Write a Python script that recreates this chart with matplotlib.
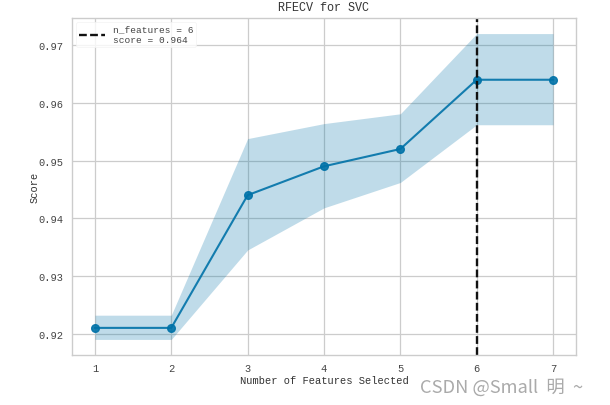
import matplotlib
matplotlib.use('Agg')
import matplotlib.pyplot as plt

# values
n_features = [1, 2, 3, 4, 5, 6, 7]
score_mean = [0.921, 0.921, 0.944, 0.949, 0.952, 0.964, 0.964]
score_upper = [0.9232, 0.9232, 0.9538, 0.9564, 0.9581, 0.972, 0.972]
score_lower = [0.919, 0.919, 0.9345, 0.9418, 0.9462, 0.9562, 0.9562]
best_n = 6
best_score = 0.964
y_ticks = [0.92, 0.93, 0.94, 0.95, 0.96, 0.97]

W, H = 610, 406
plt.rcParams['font.family'] = ['Liberation Mono', 'DejaVu Sans Mono']

fig = plt.figure(figsize=(W / 100, H / 100), dpi=100)
ax = fig.add_axes([72 / W, 1 - 356 / H, (576 - 72) / W, (356 - 19) / H])

blue = '#0072a8'
ax.fill_between(n_features, score_lower, score_upper, color=blue, alpha=0.25, lw=0)
ax.plot(n_features, score_mean, color=blue, lw=1.5, alpha=0.9, marker='o', ms=5.5)
ax.axvline(best_n, color='#111111', ls=(0, (3.3, 1.4)), lw=1.7,
           label=f'n_features = {best_n}\nscore = {best_score}')

ax.set_xlim(0.7, 7.3)
ax.set_ylim(0.9163, 0.9747)
ax.set_xticks(n_features)
ax.set_yticks(y_ticks)
ax.set_yticklabels([f'{v:.2f}' for v in y_ticks])

ax.grid(True, color='#cccccc', lw=0.9)
ax.set_axisbelow(True)
for s in ax.spines.values():
    s.set_color('#cccccc')
    s.set_linewidth(1.0)
ax.tick_params(length=0, labelsize=7.5, labelcolor='#444444', pad=6)

ax.set_title('RFECV for SVC', fontsize=8.5, color='#333333', pad=6)
ax.set_xlabel('Number of Features Selected', fontsize=7.5, color='#333333', labelpad=1)
ax.set_ylabel('Score', fontsize=7.5, color='#333333', labelpad=-1)

leg = ax.legend(loc='upper left', fontsize=6.8, framealpha=0.8, edgecolor='#f2f2f2',
                labelspacing=0.2, borderaxespad=0.4, labelcolor='#444444', handlelength=2.8,
                borderpad=0.3, handletextpad=0.8)
leg.get_frame().set_linewidth(0.6)

fig.text(420 / W, 1 - 388 / H, 'CSDN @Small  明  ~', fontsize=13.2, color='#aaaaaa',
         family=['Noto Sans CJK SC', 'DejaVu Sans'], va='center', fontweight='light')

fig.savefig('out.png', dpi=100)
